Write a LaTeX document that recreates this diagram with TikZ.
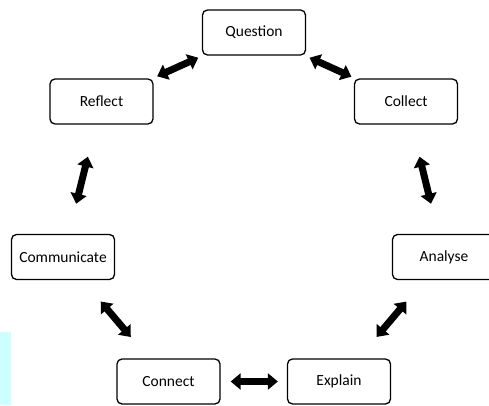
\documentclass[tikz,border=0pt]{standalone}
\usepackage{fontspec}
\setmainfont{Carlito}
\usetikzlibrary{arrows.meta}
\definecolor{palecyan}{HTML}{CCFFFF}

\tikzset{
  stage/.style={draw, line width=1.3pt, rounded corners=5pt, minimum width=103pt, minimum height=45pt, font=\fontsize{15.5}{18}\selectfont},
  link/.style={line width=7pt, {Triangle[length=10pt,width=16pt]}-{Triangle[length=10pt,width=16pt]}}
}

\begin{document}
\begin{tikzpicture}[x=1pt, y=1pt]
  \useasboundingbox (0,0) rectangle (489,405);
  \fill[palecyan] (0,0) rectangle (11,73);

  \node[stage] (question) at (254,372.5) {Question};
  \node[stage] (reflect) at (101.5,303.5) {Reflect};
  \node[stage] (collect) at (406,303.5) {Collect};
  \node[stage] (communicate) at (63,148) {Communicate};
  \node[stage] (analyse) at (444,148) {Analyse};
  \node[stage] (connect) at (168.5,23.5) {Connect};
  \node[stage] (explain) at (339,23.5) {Explain};

  \draw[link, shorten <=5pt, shorten >=5pt] (question) -- (reflect);
  \draw[link, shorten <=5pt, shorten >=4pt] (question) -- (collect);
  \draw[link, shorten <=33pt, shorten >=31pt] (reflect) -- (communicate);
  \draw[link, shorten <=33pt, shorten >=31pt] (collect) -- (analyse);
  \draw[link, shorten <=28pt, shorten >=28pt] (communicate) -- (connect);
  \draw[link, shorten <=28pt, shorten >=28pt] (analyse) -- (explain);
  \draw[link, shorten <=10pt, shorten >=9pt] (connect) -- (explain);
\end{tikzpicture}
\end{document}
